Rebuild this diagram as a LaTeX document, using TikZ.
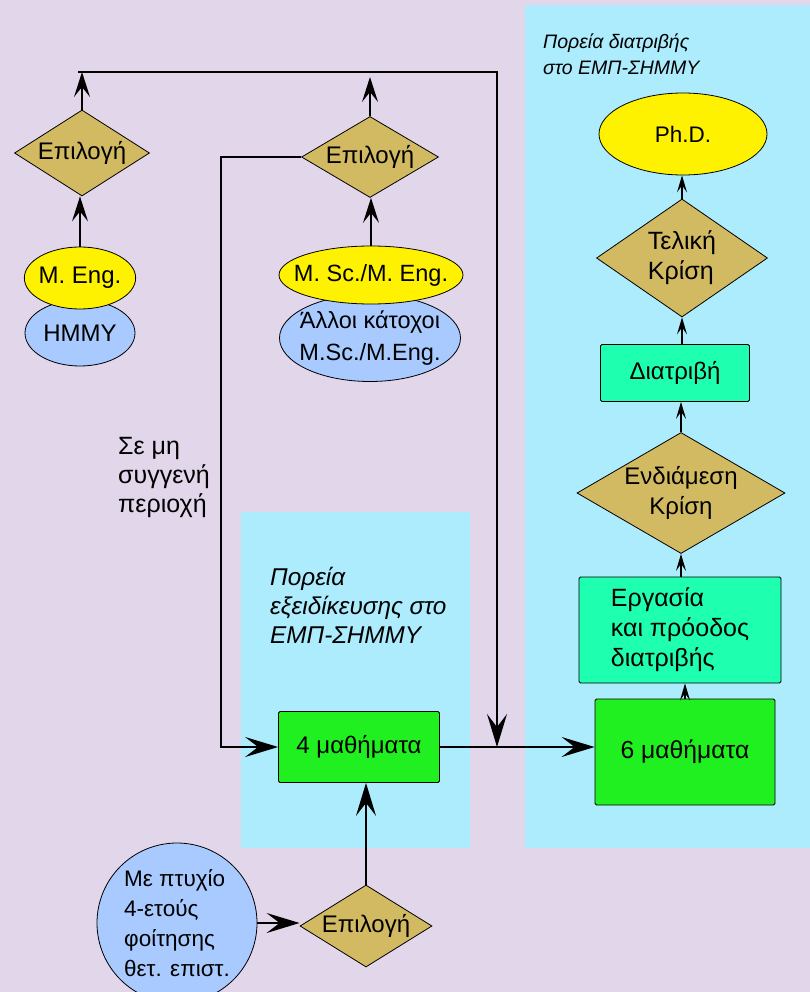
\documentclass[tikz,border=0pt]{standalone}
\usepackage{fontspec}
\setmainfont{Liberation Sans}
\usetikzlibrary{shapes.geometric,arrows.meta}

\definecolor{lavbg}{RGB}{226,214,234}
\definecolor{panelcyan}{RGB}{173,236,253}
\definecolor{tanfill}{RGB}{210,186,98}
\definecolor{bluefill}{RGB}{168,202,255}
\definecolor{greenfill}{RGB}{32,240,32}
\definecolor{tealfill}{RGB}{30,255,176}

\tikzset{
  choice/.style={diamond, draw, fill=tanfill, inner sep=0pt, line width=0.8pt},
  degree/.style={ellipse, draw, fill=yellow, inner sep=0pt, line width=0.8pt},
  holder/.style={ellipse, draw, fill=bluefill, inner sep=0pt, line width=0.8pt},
  course/.style={rectangle, draw, fill=greenfill, rounded corners=1.5pt, line width=0.8pt},
  stage/.style={rectangle, draw, fill=tealfill, rounded corners=1.5pt, line width=0.8pt},
  caption/.style={align=left, anchor=west, inner sep=0pt},
  bigarr/.style={line width=1.9pt, -{Stealth[length=33pt, width=20pt, inset=13pt]}},
  midarr/.style={line width=1.7pt, -{Stealth[length=25pt, width=16pt, inset=10pt]}},
  smallarr/.style={line width=1.2pt, -{Stealth[length=17pt, width=10pt, inset=7pt]}}
}

\begin{document}
\begin{tikzpicture}[x=1pt, y=-1pt, font=\fontsize{24}{30}\selectfont]
  \path[use as bounding box, fill=lavbg] (0,0) rectangle (810,992);
  \clip (0,0) rectangle (810,992);
  % panels
  \fill[panelcyan] (525,5) rectangle (810,848);
  \fill[panelcyan] (241,512) rectangle (470,848);

  % nodes
  \node[holder, minimum width=110, minimum height=66] (hmmy) at (80,333) {ΗΜΜΥ};
  \node[degree, minimum width=110, minimum height=62, inner xsep=-2pt] (meng) at (80,278) {M. Eng.};
  \node[choice, aspect=1.57, minimum width=135, minimum height=86] (selL) at (82,153) {Επιλογή};
  \node[holder, minimum width=181, minimum height=87, inner xsep=-7pt, align=center, font=\fontsize{23.5}{32}\selectfont] (other) at (370,338) {Άλλοι κάτοχοι\\M.Sc./M.Eng.};
  \node[degree, minimum width=182, minimum height=58, inner xsep=-12pt, font=\fontsize{23.5}{30}\selectfont] (msc) at (371,275) {M. Sc./M. Eng.};
  \node[choice, aspect=1.69, minimum width=137, minimum height=81] (selM) at (370,157) {Επιλογή};
  \node[course, minimum width=161, minimum height=71] (four) at (359,747) {4 μαθήματα};
  \node[course, minimum width=180, minimum height=106, font=\fontsize{24.7}{30}\selectfont] (six) at (685,752) {6 μαθήματα};
  \node[stage, minimum width=202, minimum height=106, align=left, font=\fontsize{25}{30}\selectfont] (work) at (680,630) {Εργασία\\και πρόοδος\\διατριβής};
  \node[choice, aspect=1.72, minimum width=208, minimum height=121, align=center] (midj) at (681,493) {Ενδιάμεση\\Κρίση};
  \node[stage, minimum width=149, minimum height=57] (thesis) at (675,373) {Διατριβή};
  \node[choice, aspect=1.45, minimum width=171, minimum height=118, align=left, font=\fontsize{25}{30}\selectfont] (finj) at (682,258) {Τελική\\Κρίση};
  \node[degree, minimum width=168, minimum height=82, font=\fontsize{22.5}{28}\selectfont] (phd) at (683,134) {Ph.D.};
  \node[holder, minimum width=160, minimum height=160, inner ysep=-3pt, align=left, font=\fontsize{22.5}{30}\selectfont] (grad) at (177,923) {Με πτυχίο\\4-ετούς\\φοίτησης\\θετ. επιστ.};
  \node[choice, aspect=1.61, minimum width=132, minimum height=82] (selB) at (366,926) {Επιλογή};

  \node[caption, font=\fontsize{25}{29}\selectfont] (note) at (118,477) {Σε μη\\συγγενή\\περιοχή};
  \node[caption, font=\fontsize{24.3}{29}\selectfont\itshape] (specT) at (270,605) {Πορεία\\εξειδίκευσης στο\\ΕΜΠ-ΣΗΜΜΥ};
  \node[caption, font=\fontsize{19.5}{26}\selectfont\itshape] (phdT) at (543,54) {Πορεία διατριβής\\στο ΕΜΠ-ΣΗΜΜΥ};

  \coordinate (tl) at (78,72);
  \coordinate (tr) at (497,72);
  \coordinate (bend) at (221,747);
  \path (four.east -| tr) coordinate (join);

  % connectors
  \draw[midarr] (meng.north) -- (meng.north |- selL.south);
  \draw[midarr] (selL.north) -- (selL.north |- tl);
  \draw[midarr] (msc.north) -- (msc.north |- selM.south);
  \draw[midarr, shorten >=5pt] (selM.north) -- (selM.north |- tl);
  \draw[bigarr] (tl) -- (tr) -- (join);
  \draw[bigarr] (selM.west) -| (bend) -- (four.west);
  \draw[bigarr] (four.east) -- (four.east -| six.west);
  \draw[bigarr] (grad.east) -- (grad.east -| selB.west);
  \draw[bigarr] (selB.north) -- (selB.north |- four.south);
  \draw[smallarr] (six.north) -- (six.north |- work.south);
  \draw[smallarr] (midj.south |- work.north) -- (midj.south);
  \draw[smallarr] (midj.north) -- (midj.north |- thesis.south);
  \draw[smallarr] (finj.south |- thesis.north) -- (finj.south);
  \draw[smallarr] (finj.north) -- (finj.north |- phd.south);
\end{tikzpicture}
\end{document}
